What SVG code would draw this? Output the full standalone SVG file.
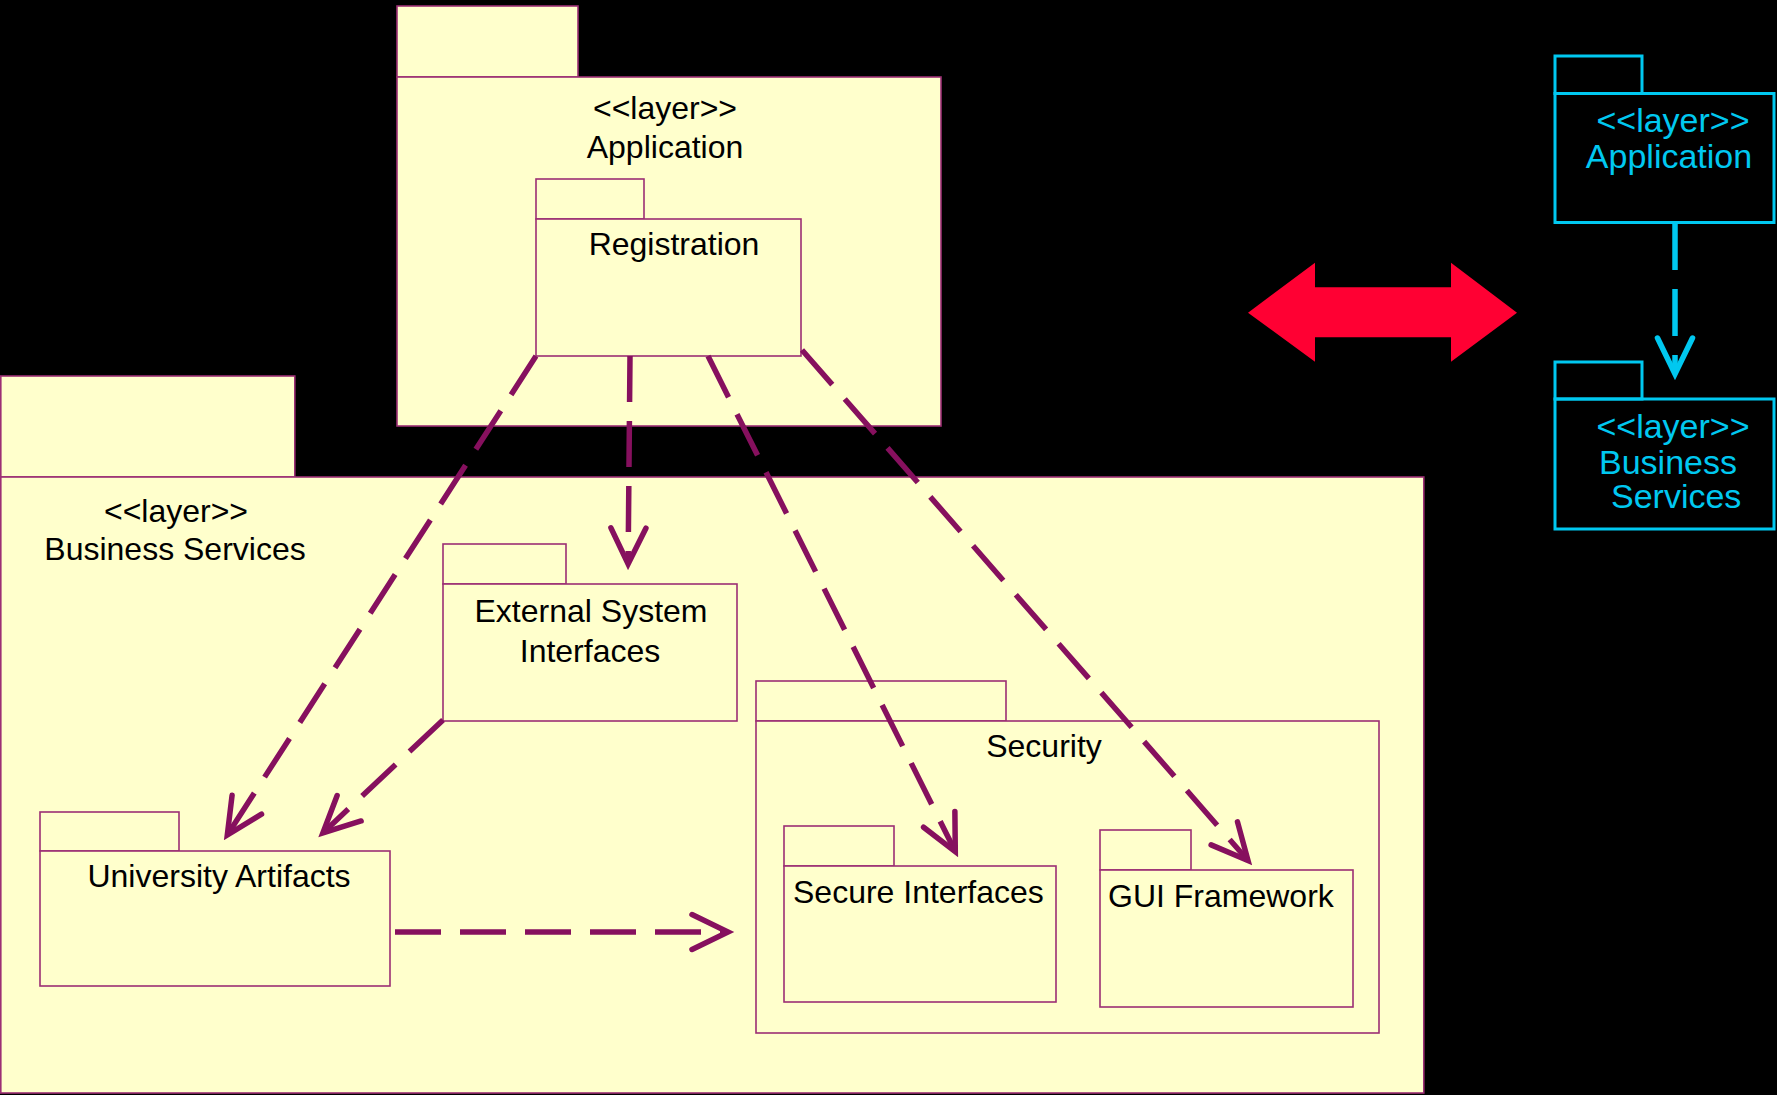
<svg xmlns="http://www.w3.org/2000/svg" width="1777" height="1095" viewBox="0 0 1777 1095">
  <style>
    .pkg { fill: #FFFFCC; stroke: #9C2F74; stroke-width: 1.6; }
    .lg { fill: none; stroke: #00C8F0; stroke-width: 3; }
    .t { font-family: "Liberation Sans", Arial, sans-serif; font-size: 32px; fill: #000; }
    .tc { font-family: "Liberation Sans", Arial, sans-serif; font-size: 34px; fill: #00C8F0; }
    .mid { text-anchor: middle; }
    .dep { fill: none; stroke: #86105E; stroke-width: 5.5; stroke-dasharray: 46 19; }
    .depc { fill: none; stroke: #00C8F0; stroke-width: 5.5; stroke-dasharray: 47 19; }
  </style>
  <defs>
    <marker id="open" markerUnits="userSpaceOnUse" orient="auto" overflow="visible" refX="0" refY="0" markerWidth="1" markerHeight="1">
      <path d="M-36,-17.5 L0,0 L-36,17.5" fill="none" stroke="#86105E" stroke-width="5.5" stroke-linecap="round" stroke-linejoin="miter"/>
    </marker>
    <marker id="openc" markerUnits="userSpaceOnUse" orient="auto" overflow="visible" refX="0" refY="0" markerWidth="1" markerHeight="1">
      <path d="M-36,-17.5 L0,0 L-36,17.5" fill="none" stroke="#00C8F0" stroke-width="5.5" stroke-linecap="round" stroke-linejoin="miter"/>
    </marker>
  </defs>

  <rect width="1777" height="1095" fill="#000"/>

  <!-- Application layer -->
  <g id="application-layer">
    <rect class="pkg" x="397" y="6" width="181" height="71"/>
    <rect class="pkg" x="397" y="77" width="544" height="349"/>
    <text class="t mid" x="665" y="119">&lt;&lt;layer&gt;&gt;</text>
    <text class="t mid" x="665" y="158">Application</text>
  </g>

  <g id="registration">
    <rect class="pkg" x="536" y="179" width="108" height="40"/>
    <rect class="pkg" x="536" y="219" width="265" height="137"/>
    <text class="t mid" x="674" y="255">Registration</text>
  </g>

  <!-- Business Services layer -->
  <g id="business-services-layer">
    <rect class="pkg" x="0.8" y="376" width="294" height="101"/>
    <rect class="pkg" x="0.8" y="477" width="1423" height="616"/>
    <text class="t mid" x="176" y="522">&lt;&lt;layer&gt;&gt;</text>
    <text class="t mid" x="175" y="560">Business Services</text>
  </g>

  <g id="external-system-interfaces">
    <rect class="pkg" x="443" y="544" width="123" height="40"/>
    <rect class="pkg" x="443" y="584" width="294" height="137"/>
    <text class="t mid" x="591" y="622">External System</text>
    <text class="t mid" x="590" y="662">Interfaces</text>
  </g>

  <g id="university-artifacts">
    <rect class="pkg" x="40" y="812" width="139" height="39"/>
    <rect class="pkg" x="40" y="851" width="350" height="135"/>
    <text class="t mid" x="219" y="887">University Artifacts</text>
  </g>

  <g id="security">
    <rect class="pkg" x="756" y="681" width="250" height="40"/>
    <rect class="pkg" x="756" y="721" width="623" height="312"/>
    <text class="t mid" x="1044" y="757">Security</text>
  </g>

  <g id="secure-interfaces">
    <rect class="pkg" x="784" y="826" width="110" height="40"/>
    <rect class="pkg" x="784" y="866" width="272" height="136"/>
    <text class="t" x="793" y="903">Secure Interfaces</text>
  </g>

  <g id="gui-framework">
    <rect class="pkg" x="1100" y="830" width="91" height="40"/>
    <rect class="pkg" x="1100" y="870" width="253" height="137"/>
    <text class="t" x="1108" y="907">GUI Framework</text>
  </g>

  <!-- Equivalence arrow -->
  <g id="equivalence-arrow">
    <polygon fill="#FF0033" points="1248,312.7 1315,262.7 1315,287.3 1451,287.3 1451,262.7 1517,312.7 1451,361.7 1451,337.3 1315,337.3 1315,361.7"/>
  </g>

  <!-- Compact notation -->
  <g id="legend-application">
    <rect class="lg" x="1555" y="56" width="87" height="37.5"/>
    <rect class="lg" x="1555" y="93.5" width="219" height="129"/>
    <text class="tc mid" x="1673" y="132">&lt;&lt;layer&gt;&gt;</text>
    <text class="tc mid" x="1669" y="168">Application</text>
  </g>

  <g id="legend-business-services">
    <rect class="lg" x="1555" y="362" width="87" height="37"/>
    <rect class="lg" x="1555" y="399" width="219" height="130"/>
    <text class="tc mid" x="1673" y="438">&lt;&lt;layer&gt;&gt;</text>
    <text class="tc" x="1599" y="474">Business</text>
    <text class="tc" x="1611" y="508">Services</text>
  </g>

  <!-- Dependencies -->
  <g id="connectors">
    <path class="dep" d="M536,356 L227.3,835" marker-end="url(#open)"/>
    <path class="dep" d="M443,720 L322.9,832.9" marker-end="url(#open)"/>
    <path class="dep" d="M630,356 L628.1,564" marker-end="url(#open)"/>
    <path class="dep" d="M708,356 L955.3,851.6" marker-end="url(#open)"/>
    <path class="dep" d="M802,350 L1248,860.5" marker-end="url(#open)"/>
    <path class="dep" d="M395,932 L728,932" marker-end="url(#open)"/>
    <path class="depc" d="M1675,223 L1675,374" marker-end="url(#openc)"/>
  </g>
</svg>
